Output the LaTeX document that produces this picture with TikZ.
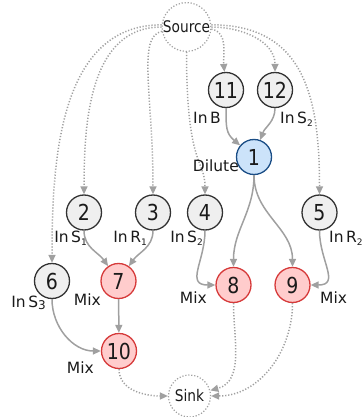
\documentclass[tikz,border=0pt]{standalone}
\usepackage{fontspec}
\setmainfont{DejaVu Sans}
\newfontfamily\narrowfont{DejaVu Sans}[FakeStretch=0.86]
\usetikzlibrary{arrows.meta}
\definecolor{edgegray}{HTML}{A0A0A0}
\definecolor{plainfill}{HTML}{EFEFEF}
\definecolor{plainline}{HTML}{333333}
\definecolor{dilutefill}{HTML}{CCE3FA}
\definecolor{diluteline}{HTML}{1B4E86}
\definecolor{mixfill}{HTML}{FFCCCC}
\definecolor{mixline}{HTML}{D63A3A}
\definecolor{inkcolor}{HTML}{1A1A1A}
% lowered small index for port labels
\newcommand\lsub[1]{\raisebox{-0.45ex}{\fontsize{9}{9}\selectfont #1}}
\begin{document}
\begin{tikzpicture}[x=1pt,y=1pt,
  op/.style={circle, draw=plainline, fill=plainfill, line width=1.3pt,
    minimum size=35pt, inner sep=0pt, text=inkcolor,
    font=\narrowfont\fontsize{22}{22}\selectfont},
  dil/.style={op, draw=diluteline, fill=dilutefill},
  mixop/.style={op, draw=mixline, fill=mixfill},
  terminal/.style={circle, draw=edgegray, line width=1.2pt,
    dash pattern=on 1.2pt off 1.8pt, minimum size=44pt, inner sep=0pt,
    text=inkcolor, font=\narrowfont\fontsize{16}{16}\selectfont},
  lab/.style={inner sep=0pt, text=inkcolor, font=\fontsize{15.5}{16}\selectfont},
  flow/.style={draw=edgegray, line width=1.5pt, -{Triangle[length=8pt,width=7pt]}},
  feed/.style={flow, dash pattern=on 1.2pt off 1.8pt},
]
\useasboundingbox (0,0) rectangle (363,-417);

% source and sink
\node[terminal, minimum size=46pt] (src) at (186.5,-27) {Source};
\node[terminal, minimum size=42pt] (snk) at (189.5,-396) {Sink};

% operations
\node[op] (n11) at (226,-90) {11};
\node[op] (n12) at (275,-90) {12};
\node[dil] (n1) at (254,-157) {1};
\node[op] (n2) at (84,-212.5) {2};
\node[op] (n3) at (153,-212.5) {3};
\node[op] (n4) at (205,-212.5) {4};
\node[op] (n5) at (319.5,-212.5) {5};
\node[op] (n6) at (52,-281) {6};
\node[mixop] (n7) at (118.5,-281) {7};
\node[mixop] (n8) at (233.5,-285) {8};
\node[mixop] (n9) at (292.5,-285) {9};
\node[mixop] (n10) at (119,-351) {10};

% feeds from the source
\draw[feed] (src.-5) to[out=-10,in=95] (n11);
\draw[feed] (src.0) to[out=0,in=90] (n12);
\draw[feed] (src.5) to[out=0,in=90,looseness=1.2] (n5);
\draw[feed] (src.south) .. controls +(0,-115) and +(0,35) .. (n4.north);
\draw[feed] (src.190) .. controls +(-25,-5) and +(0,100) .. (n3.north);
\draw[feed] (src.180) to[out=180,in=90] (n2);
\draw[feed] (src.175) to[out=180,in=90] (n6);

% fluid flow between operations
\draw[flow] (n11) to[out=-90,in=140,looseness=1.2] (n1);
\draw[flow] (n12) to[out=-90,in=70] (n1);
\draw[flow] (n1) to[out=-90,in=90] (n8);
\draw[flow] (n1) to[out=-90,in=90] (n9);
\draw[flow] (n2) to[out=-90,in=125] (n7);
\draw[flow] (n3) to[out=-90,in=55] (n7);
\draw[flow] (n4) to[out=-90,in=180,looseness=1.4] (n8);
\draw[flow] (n5) to[out=-90,in=0,looseness=1.4] (n9);
\draw[flow] (n6) to[out=-90,in=180] (n10);
\draw[flow] (n7) -- (n10);

% outputs to the sink
\draw[feed] (n10) to[out=-90,in=180] (snk);
\draw[feed] (n8) to[out=-90,in=15] (snk);
\draw[feed] (n9) to[out=-90,in=0] (snk);

% operation labels
\node[lab, anchor=base east] (l11) at (221,-123) {In\,B};
\node[lab, anchor=base west] (l12) at (280,-123) {In\,S\lsub{2}};
\node[lab, anchor=base east] (l1) at (239,-171) {Dilute};
\node[lab, anchor=base east] (l2) at (87,-242) {In\,S\lsub{1}};
\node[lab, anchor=base east] (l3) at (147,-242) {In\,R\lsub{1}};
\node[lab, anchor=base east] (l4) at (203,-242) {In\,S\lsub{2}};
\node[lab, anchor=base west] (l5) at (329,-242) {In\,R\lsub{2}};
\node[lab, anchor=base east] (l6) at (46,-307) {In\,S\raisebox{-0.3ex}{\fontsize{12}{12}\selectfont 3}};
\node[lab, anchor=base east] (l7) at (101,-305) {Mix};
\node[lab, anchor=base east] (l8) at (207,-303) {Mix};
\node[lab, anchor=base west] (l9) at (320,-303) {Mix};
\node[lab, anchor=base east] (l10) at (94,-373) {Mix};
\end{tikzpicture}
\end{document}
